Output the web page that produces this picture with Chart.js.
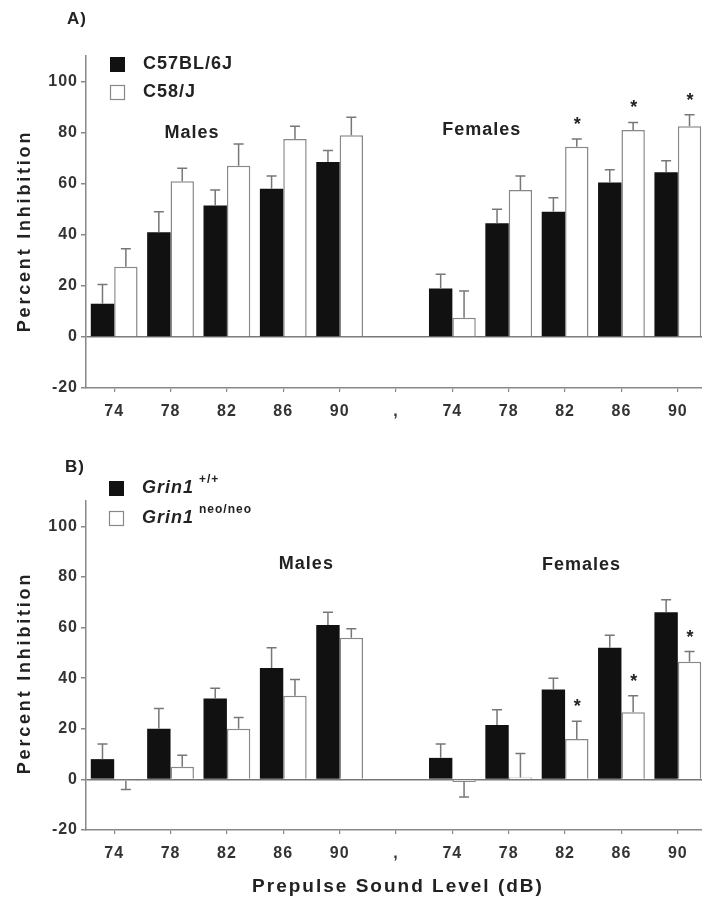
<!DOCTYPE html>
<html>
<head>
<meta charset="utf-8">
<script src="https://cdn.jsdelivr.net/npm/chart.js@4.4.0/dist/chart.umd.min.js"></script>
<style>
  html, body { margin: 0; padding: 0; background: #fff; overflow: hidden; }
  #wrap { position: relative; width: 702px; height: 901px; overflow: hidden; }
  .box { position: absolute; left: 0; }
  #boxA { top: 0; }
  #boxB { top: 440px; }
</style>
</head>
<body>
<div id="wrap">
  <div class="box" id="boxA"><canvas id="chartA" width="710" height="430"></canvas></div>
  <div class="box" id="boxB"><canvas id="chartB" width="710" height="461"></canvas></div>
</div>
<script>
// x categories (prepulse dB), "," marks the gap between males and females
const levels = ['74', '78', '82', '86', '90', ',', '74', '78', '82', '86', '90'];
const groupLabels = ['Males', 'Females'];

// panel A: C57BL/6J vs C58/J
const seriesA = ['C57BL/6J', 'C58/J'];
const b6 = [13, 41, 51.5, 58, 68.5, null, 19, 44.5, 49, 60.5, 64.5];
const b6Err = [7.5, 8, 6, 5, 4.5, null, 5.5, 5.5, 5.5, 5, 4.5];
const c58 = [27.5, 61, 67, 77.5, 79, null, 7.5, 57.5, 74.5, 81, 82.5];
const c58Err = [7, 5, 8.5, 5, 7, null, 10.5, 5.5, 3, 3, 4.5];
const starsA = [8, 9, 10];

// panel B: Grin1 +/+ vs Grin1 neo/neo
const seriesB = ['Grin1', 'Grin1'];
const supB = ['+/+', 'neo/neo'];
const wt = [8, 20, 32, 44, 61, null, 8.5, 21.5, 35.5, 52, 66];
const wtErr = [6, 8, 4, 8, 5, null, 5.5, 6, 4.5, 5, 5];
const neo = [-0.5, 5, 20, 33, 56, null, -1, 0.7, 16, 26.5, 46.5];
const neoErr = [3.5, 4.5, 4.5, 6.5, 3.5, null, 6, 9.5, 7, 6.5, 4];
const starsB = [8, 9, 10];

const yTicks = [-20, 0, 20, 40, 60, 80, 100];

const FONT = '"Liberation Sans", Arial, sans-serif';
const INK = '#222';
const AXIS = '#888';

// error bars: up for positive bars, down for negative ones
const errorBars = {
  id: 'errorBars',
  afterDatasetsDraw(chart) {
    const { ctx } = chart;
    const y = chart.scales.y;
    ctx.save();
    ctx.strokeStyle = '#777';
    ctx.lineWidth = 1.5;
    chart.data.datasets.forEach((ds, di) => {
      chart.getDatasetMeta(di).data.forEach((bar, i) => {
        const v = ds.data[i], e = ds.errors[i];
        if (v == null || e == null) return;
        const end = v >= 0 ? v + e : v - e;
        const y0 = y.getPixelForValue(v), y1 = y.getPixelForValue(end);
        ctx.beginPath();
        ctx.moveTo(bar.x, y0);
        ctx.lineTo(bar.x, y1);
        ctx.moveTo(bar.x - 5, y1);
        ctx.lineTo(bar.x + 5, y1);
        ctx.stroke();
      });
    });
    ctx.restore();
  }
};

// texts: panel letter, legend, group names, axis titles, asterisks
const annotate = {
  id: 'annotate',
  beforeDraw(chart) { chart.ctx.letterSpacing = '1px'; },
  afterDraw(chart, args, o) {
    const { ctx } = chart;
    const x = chart.scales.x, y = chart.scales.y;
    ctx.save();
    ctx.letterSpacing = '1px';
    ctx.fillStyle = INK;
    ctx.textBaseline = 'middle';
    ctx.textAlign = 'left';

    ctx.font = 'bold 17px ' + FONT;
    ctx.fillText(o.panel, o.panelPos[0], o.panelPos[1]);

    // legend
    o.legend.forEach((txt, k) => {
      const [lx, ly] = o.legendPos[k];
      const ds = chart.data.datasets[k];
      ctx.fillStyle = ds.backgroundColor;
      ctx.fillRect(lx, ly - 7, 15, 15);
      if (k === 1) {
        ctx.strokeStyle = AXIS;
        ctx.lineWidth = 1.2;
        ctx.strokeRect(lx + 0.5, ly - 6.5, 14, 14);
      }
      ctx.fillStyle = INK;
      ctx.font = (o.italic ? 'italic ' : '') + 'bold 18px ' + FONT;
      ctx.fillText(txt, lx + 33, ly);
      if (o.sup) {
        const w = ctx.measureText(txt).width;
        ctx.font = 'bold 12px ' + FONT;
        ctx.fillText(o.sup[k], lx + 33 + w + 5, ly - 8);
      }
    });

    // group names
    ctx.textAlign = 'center';
    ctx.font = 'bold 18px ' + FONT;
    groupLabels.forEach((g, k) => {
      ctx.fillText(g, x.getPixelForValue(o.groupAt[k][0]), y.getPixelForValue(o.groupAt[k][1]));
    });

    // y title
    ctx.save();
    ctx.translate(o.yTitlePos[0], o.yTitlePos[1]);
    ctx.rotate(-Math.PI / 2);
    ctx.font = 'bold 18px ' + FONT;
    ctx.letterSpacing = '2.8px';
    ctx.fillText('Percent Inhibition', 0, 0);
    ctx.restore();

    // x title
    if (o.xTitle) {
      ctx.font = 'bold 19px ' + FONT;
      ctx.letterSpacing = '2px';
      ctx.fillText(o.xTitle, o.xTitlePos[0], o.xTitlePos[1]);
      ctx.letterSpacing = '1px';
    }

    // asterisks over the white bars
    const ds = chart.data.datasets[1];
    const meta = chart.getDatasetMeta(1);
    ctx.font = 'bold 18px ' + FONT;
    ctx.textBaseline = 'alphabetic';
    o.stars.forEach(i => {
      const top = y.getPixelForValue(ds.data[i] + ds.errors[i]) - 19;
      ctx.fillText('*', meta.data[i].x + 1, top + 10);
    });
    ctx.restore();
  }
};

function makeChart(id, sets, o, padTop, xHeight) {
  return new Chart(document.getElementById(id), {
    type: 'bar',
    data: {
      labels: levels,
      datasets: [
        { label: sets[0].label, data: sets[0].data, errors: sets[0].err,
          backgroundColor: '#111', borderColor: '#111', borderWidth: 0 },
        { label: sets[1].label, data: sets[1].data, errors: sets[1].err,
          backgroundColor: '#fff', borderColor: AXIS, borderWidth: 1.5 }
      ]
    },
    options: {
      responsive: false,
      animation: false,
      layout: { padding: { top: padTop, right: 4, left: 0, bottom: 0 } },
      datasets: { bar: { categoryPercentage: 0.83, barPercentage: 1.0 } },
      plugins: {
        legend: { display: false },
        tooltip: { enabled: false },
        annotate: o
      },
      scales: {
        x: {
          afterFit: s => { s.height = xHeight; },
          grid: { offset: false, drawOnChartArea: false, tickLength: 4, tickColor: AXIS, lineWidth: 1.2 },
          border: { color: AXIS, width: 1.5 },
          ticks: { color: '#333', font: { family: FONT, size: 16, weight: 'bold' },
                   padding: 10, maxRotation: 0, autoSkip: false }
        },
        y: {
          min: -20, max: 110,
          afterFit: s => { s.width = 86; },
          afterBuildTicks: s => { s.ticks = yTicks.map(v => ({ value: v })); },
          grid: { color: c => (c.tick && c.tick.value === 0 ? '#777' : 'transparent'),
                  tickColor: AXIS, tickLength: 5, lineWidth: 1.5 },
          border: { color: AXIS, width: 1.5 },
          ticks: { color: '#333', font: { family: FONT, size: 16, weight: 'bold' }, padding: 3 }
        }
      }
    },
    plugins: [errorBars, annotate]
  });
}

makeChart('chartA',
  [{ label: seriesA[0], data: b6, err: b6Err }, { label: seriesA[1], data: c58, err: c58Err }],
  { panel: 'A)', panelPos: [67, 19], legend: seriesA, legendPos: [[110, 64], [110, 92]],
    italic: false, sup: null, groupAt: [[1.38, 80], [6.52, 81]], yTitlePos: [25, 231],
    xTitle: null, stars: starsA },
  56, 42);

makeChart('chartB',
  [{ label: seriesB[0] + ' ' + supB[0], data: wt, err: wtErr },
   { label: seriesB[1] + ' ' + supB[1], data: neo, err: neoErr }],
  { panel: 'B)', panelPos: [65, 27], legend: seriesB, legendPos: [[109, 48], [109, 78]],
    italic: true, sup: supB, groupAt: [[3.41, 85], [8.29, 84.6]], yTitlePos: [25, 233],
    xTitle: 'Prepulse Sound Level (dB)', xTitlePos: [398, 447], stars: starsB },
  61, 71);
</script>
</body>
</html>
